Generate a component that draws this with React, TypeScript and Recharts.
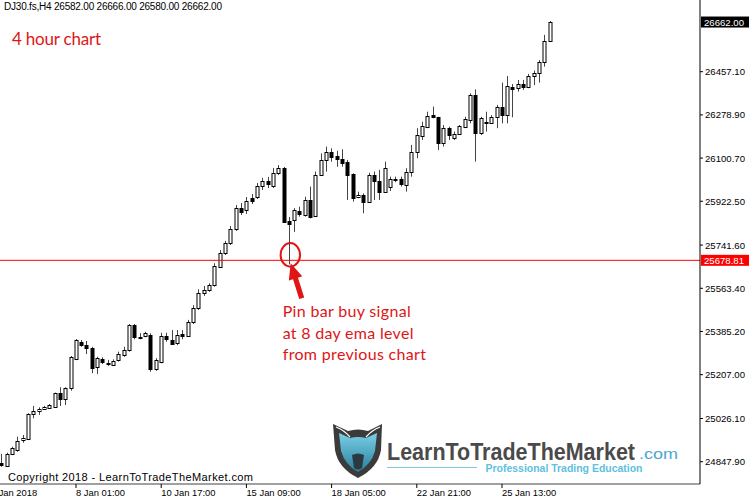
import React from "react";
import { ComposedChart, Bar, XAxis, YAxis, ReferenceLine, ReferenceDot } from "recharts";

// DJ30.fs H4 bars, oldest first (bar k=-14 .. k=89, k=0 is 8 Jan 01:00)
const barOpens = [
  24844, 24831, 24880, 24896, 24938, 24940, 25044, 25057, 25064, 25071, 25075, 25130, 25105, 25151,
  25270, 25343, 25329, 25316, 25240, 25270, 25252, 25247, 25268, 25288, 25309, 25412, 25364, 25367,
  25371, 25230, 25261, 25367, 25350, 25336, 25374, 25367, 25426, 25481, 25543, 25556, 25577, 25653,
  25708, 25749, 25807, 25894, 25886, 25936, 25940, 25986, 26006, 25986, 26038, 26059, 25841, 25845,
  25882, 25866, 25928, 25862, 26031, 26093, 26125, 26109, 26096, 26086, 26034, 25941, 25948, 25921,
  26031, 26007, 25962, 25983, 26010, 26013, 25990, 26045, 26126, 26192, 26230, 26278, 26269, 26162,
  26224, 26182, 26200, 26230, 26258, 26361, 26203, 26251, 26247, 26269, 26313, 26278, 26395, 26389,
  26406, 26393, 26438, 26450, 26498, 26582,
];
const barHighs = [
  24880, 24885, 24910, 24951, 24958, 25048, 25078, 25072, 25078, 25086, 25133, 25155, 25155, 25284,
  25354, 25350, 25346, 25322, 25281, 25279, 25268, 25270, 25302, 25322, 25416, 25416, 25378, 25384,
  25378, 25275, 25380, 25380, 25391, 25391, 25391, 25433, 25494, 25559, 25573, 25584, 25667, 25721,
  25759, 25820, 25907, 25915, 25940, 25953, 25998, 26019, 26023, 26060, 26072, 26064, 25858, 25894,
  25900, 25941, 25983, 26045, 26120, 26148, 26141, 26131, 26137, 26093, 26038, 25962, 25955, 26040,
  26045, 26052, 26086, 26024, 26024, 26024, 26059, 26155, 26224, 26251, 26292, 26313, 26271, 26237,
  26230, 26210, 26237, 26271, 26368, 26384, 26271, 26292, 26278, 26320, 26412, 26439, 26406, 26423,
  26423, 26448, 26462, 26505, 26609, 26666,
];
const barLows = [
  24827, 24826, 24875, 24889, 24926, 24937, 25027, 25041, 25061, 25067, 25072, 25078, 25082, 25141,
  25267, 25322, 25292, 25213, 25210, 25251, 25243, 25243, 25261, 25281, 25302, 25353, 25353, 25361,
  25219, 25223, 25254, 25343, 25329, 25329, 25353, 25364, 25416, 25474, 25532, 25549, 25570, 25647,
  25701, 25742, 25800, 25866, 25870, 25911, 25932, 25969, 25977, 25977, 26031, 25833, 25662, 25796,
  25859, 25859, 25852, 25858, 26027, 26045, 26086, 26065, 26065, 25928, 25921, 25935, 25873, 25915,
  25928, 25928, 25957, 25965, 26001, 25983, 25962, 26024, 26100, 26175, 26224, 26265, 26134, 26148,
  26175, 26175, 26196, 26224, 26244, 26086, 26196, 26210, 26244, 26224, 26244, 26244, 26269, 26375,
  26382, 26389, 26402, 26412, 26478, 26580,
];
const barCloses = [
  24834, 24878, 24903, 24935, 24947, 25044, 25057, 25065, 25072, 25081, 25130, 25105, 25151, 25281,
  25350, 25329, 25316, 25233, 25275, 25259, 25256, 25265, 25291, 25309, 25412, 25361, 25357, 25378,
  25230, 25268, 25367, 25353, 25332, 25371, 25367, 25426, 25481, 25543, 25556, 25577, 25655, 25710,
  25749, 25807, 25894, 25879, 25924, 25924, 25986, 26006, 25994, 26038, 26059, 25838, 25827, 25886,
  25869, 25928, 25859, 26031, 26093, 26127, 26106, 26096, 26082, 26031, 25935, 25948, 25921, 26031,
  26007, 25962, 26059, 26013, 26013, 25993, 26045, 26127, 26196, 26233, 26274, 26269, 26162, 26224,
  26196, 26200, 26233, 26261, 26361, 26205, 26265, 26244, 26269, 26313, 26278, 26398, 26384, 26406,
  26393, 26439, 26453, 26499, 26584, 26662,
];

// two empty slots on the left so the first date label sits off the edge like in MT4
const emptySlots = 2;
const dateTickSlots = [0, 16, 32, 48, 64, 80, 96];
const dateTickLabels = ["5 Jan 2018", "8 Jan 01:00", "10 Jan 17:00", "15 Jan 09:00", "18 Jan 05:00", "22 Jan 21:00", "25 Jan 13:00"];
const priceTicks = [24847.9, 25026.1, 25207.0, 25385.2, 25563.4, 25741.6, 25922.5, 26100.7, 26278.9, 26457.1];
const emaLevel = 25678.81;
const lastPrice = 26662.0;
const pinBarIndex = 54;

const data = Array.from({ length: emptySlots + barOpens.length }, (_, slot) => {
  const i = slot - emptySlots;
  if (i < 0) return { slot };
  return {
    slot,
    open: barOpens[i],
    high: barHighs[i],
    low: barLows[i],
    close: barCloses[i],
    range: [barLows[i], barHighs[i]],
  };
});

const mtFont = "'Liberation Sans', Arial, sans-serif";
const red = "#e01515";

function Candle(props: any) {
  const { x, y, width, height, payload } = props;
  if (!payload || payload.open == null) return null;
  const { open, high, low, close } = payload;
  const top = Math.min(y, y + height);
  const h = Math.abs(height);
  const ppu = h / (high - low);
  const cx = Math.floor(x + width / 2) + 0.5;
  const yOf = (v: number) => top + (high - v) * ppu;
  const bodyTop = Math.round(yOf(Math.max(open, close))) + 0.5;
  let bodyBot = Math.round(yOf(Math.min(open, close))) + 0.5;
  if (bodyBot - bodyTop < 1) bodyBot = bodyTop + 1;
  const bull = close >= open;
  return (
    <g>
      <line x1={cx} x2={cx} y1={top} y2={top + h} stroke="#444" strokeWidth={1} />
      <rect x={cx - 1.5} y={bodyTop} width={3} height={bodyBot - bodyTop} fill={bull ? "#fff" : "#000"} stroke="#000" strokeWidth={1} />
    </g>
  );
}

function DateTick(props: any) {
  const { x, y, payload } = props;
  const idx = dateTickSlots.indexOf(payload.value);
  return (
    <text x={x} y={y + 6} fontSize={9.4} fontFamily={mtFont} fill="#000" textAnchor="start">
      {dateTickLabels[idx]}
    </text>
  );
}

function PriceTick(props: any) {
  const { x, y, payload } = props;
  return (
    <text x={x} y={y + 3.5} fontSize={9.6} fontFamily={mtFont} fill="#000" textAnchor="start">
      {payload.value.toFixed(2)}
    </text>
  );
}

function PriceTag(props: any) {
  const { viewBox, bg, text } = props;
  const right = viewBox.x + viewBox.width;
  return (
    <g>
      <rect x={right + 1} y={viewBox.y - 5.5} width={48} height={11} fill={bg} />
      <text x={right + 4} y={viewBox.y + 3.5} fontSize={9.6} fontFamily={mtFont} fill="#fff">
        {text}
      </text>
    </g>
  );
}

function PinMarker(props: any) {
  const { cx, cy } = props;
  // arrow from tail up to the circle
  const tip = [cx + 1.7, cy - 1.2];
  const tail = [cx + 12.7, cy + 33.8];
  const dx = tip[0] - tail[0];
  const dy = tip[1] - tail[1];
  const len = Math.hypot(dx, dy);
  const ux = dx / len;
  const uy = dy / len;
  const nx = -uy;
  const ny = ux;
  const headLen = 16;
  const headW = 7;
  const shaftW = 2.6;
  const bx = tip[0] - ux * headLen;
  const by = tip[1] - uy * headLen;
  const pts = [
    [tail[0] + nx * shaftW, tail[1] + ny * shaftW],
    [bx + nx * shaftW, by + ny * shaftW],
    [bx + nx * headW, by + ny * headW],
    tip,
    [bx - nx * headW, by - ny * headW],
    [bx - nx * shaftW, by - ny * shaftW],
    [tail[0] - nx * shaftW, tail[1] - ny * shaftW],
  ]
    .map((p) => p.join(","))
    .join(" ");
  const textFont = "Lato, 'Liberation Sans', sans-serif";
  return (
    <g>
      <ellipse cx={cx + 1.3} cy={cy - 9.5} rx={9.7} ry={11.8} fill="none" stroke={red} strokeWidth={2} />
      <polygon points={pts} fill={red} />
      <text x={cx - 6.3} y={cy + 52.8} fontSize={16} fontFamily={textFont} fill={red} textLength={128}>
        Pin bar buy signal
      </text>
      <text x={cx - 6.3} y={cy + 74.2} fontSize={16} fontFamily={textFont} fill={red} textLength={130.7}>
        at 8 day ema level
      </text>
      <text x={cx - 6.3} y={cy + 95.5} fontSize={16} fontFamily={textFont} fill={red} textLength={143.3}>
        from previous chart
      </text>
    </g>
  );
}

function Overlay() {
  return (
    <svg width={750} height={498} style={{ position: "absolute", left: 0, top: 0, pointerEvents: "none" }}>
      <defs>
        <linearGradient id="teal" x1="0" y1="0" x2="0" y2="1">
          <stop offset="0%" stopColor="#79cfe6" />
          <stop offset="100%" stopColor="#2b7f9c" />
        </linearGradient>
      </defs>
      <text x={4} y={10} fontSize={10} fontFamily={mtFont} fill="#000" textLength={218}>
        DJ30.fs,H4  26582.00 26666.00 26580.00 26662.00
      </text>
      <text x={12} y={44.5} fontSize={17} fontFamily="Lato, 'Liberation Sans', sans-serif" fill={red} textLength={89}>
        4 hour chart
      </text>
      <text x={8} y={481} fontSize={11} fontFamily={mtFont} fill="#000" textLength={245}>
        Copyright 2018 - LearnToTradeTheMarket.com
      </text>
      {/* logo */}
      <path d="M333,424 L348,431 Q358,428 368,431 L382,424 L381,450 Q378,468 358,478 Q338,468 335,450 Z" fill="#3b3b3b" />
      <path d="M339,433 L350,438 Q358,436 366,438 L377,433 L375,451 Q371,465 358,472 Q345,465 341,451 Z" fill="url(#teal)" />
      <path d="M336,427 Q344,430 350,437" stroke="#fff" strokeWidth={1.2} fill="none" />
      <path d="M380,427 Q372,430 366,437" stroke="#fff" strokeWidth={1.2} fill="none" />
      <path d="M352,455 Q358,452 364,455 L362,468 Q358,471 354,468 Z" fill="#2a3a40" />
      <text x={387} y={459.5} fontSize={24} fontWeight="bold" fontFamily={mtFont} fill="#4a4a4a" textLength={248} lengthAdjust="spacingAndGlyphs">
        LearnToTradeTheMarket
      </text>
      <text x={639} y={459} fontSize={15} fontFamily={mtFont} fill="#4aa6d3" textLength={39} lengthAdjust="spacingAndGlyphs">
        .com
      </text>
      <line x1={387} x2={477} y1={467.5} y2={467.5} stroke="#7ecbe6" strokeWidth={1} />
      <text x={485.5} y={472} fontSize={11.5} fontWeight="bold" fontFamily={mtFont} fill="#5fbfe0" textLength={157} lengthAdjust="spacingAndGlyphs">
        Professional Trading Education
      </text>
    </svg>
  );
}

export default function App() {
  const pinSlot = pinBarIndex + emptySlots;
  return (
    <div style={{ position: "relative", width: 750, height: 498, background: "#fff" }}>
      <style>{"body{margin:0;background:#fff}"}</style>
      <ComposedChart width={750} height={498} data={data} margin={{ top: 0, right: 0, bottom: 0, left: -11.86 }}>
        <XAxis
          dataKey="slot"
          type="category"
          height={14}
          padding={{ left: 0, right: 147.4 }}
          ticks={dateTickSlots}
          interval={0}
          axisLine={{ stroke: "#a0a0a0", strokeWidth: 2 }}
          tickLine={{ stroke: "#000" }}
          tickSize={4}
          tickMargin={2}
          tick={<DateTick />}
        />
        <YAxis
          orientation="right"
          width={50}
          domain={[24755.9, 26752.9]}
          allowDataOverflow
          ticks={priceTicks}
          interval={0}
          axisLine={{ stroke: "#000" }}
          tickLine={{ stroke: "#000" }}
          tickSize={3}
          tickMargin={2}
          tick={<PriceTick />}
        />
        <Bar dataKey="range" barSize={4} shape={<Candle />} isAnimationActive={false} />
        <ReferenceLine y={emaLevel} stroke="#ff0000" strokeWidth={1} label={<PriceTag bg="#ff0000" text="25678.81" />} />
        <ReferenceLine y={lastPrice} stroke="none" label={<PriceTag bg="#000" text="26662.00" />} />
        <ReferenceDot x={pinSlot} y={barLows[pinBarIndex]} r={0} fill="none" stroke="none" shape={<PinMarker />} />
      </ComposedChart>
      <Overlay />
    </div>
  );
}
